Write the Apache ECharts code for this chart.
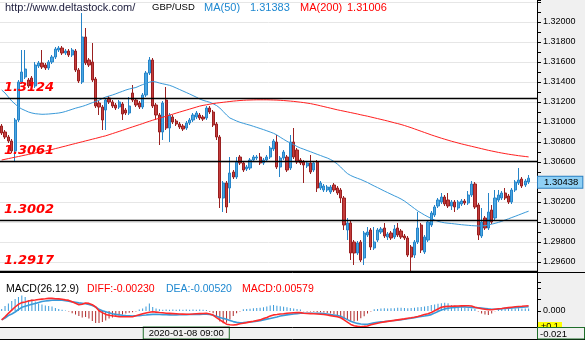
<!DOCTYPE html>
<html><head><meta charset="utf-8">
<script src="https://cdn.jsdelivr.net/npm/echarts@6/dist/echarts.min.js"></script>
<style>html,body{margin:0;padding:0;background:#f0f0f0}#c{width:585px;height:340px}</style>
</head><body><div id="c"></div>
<script>
// ---- data ----
const open = [1.3096,1.3090,1.3085,1.3081,1.3071,1.3102,1.3140,1.3145,1.3142,1.3144,
1.3136,1.3156,1.3159,1.3157,1.3154,1.3160,1.3165,1.3172,1.3174,1.3169,
1.3171,1.3167,1.3171,1.3152,1.3140,1.3185,1.3162,1.3160,1.3143,1.3119,
1.3115,1.3112,1.3124,1.3120,1.3117,1.3115,1.3118,1.3112,1.3109,1.3129,
1.3122,1.3119,1.3115,1.3127,1.3149,1.3162,1.3117,1.3107,1.3090,1.3122,
1.3094,1.3105,1.3101,1.3098,1.3096,1.3094,1.3099,1.3102,1.3105,1.3107,
1.3105,1.3104,1.3114,1.3110,1.3098,1.3085,1.3024,1.3039,1.3034,1.3050,
1.3045,1.3065,1.3059,1.3053,1.3054,1.3062,1.3064,1.3065,1.3059,1.3062,
1.3065,1.3073,1.3080,1.3055,1.3064,1.3065,1.3054,1.3080,1.3072,1.3062,
1.3060,1.3056,1.3059,1.3052,1.3060,1.3034,1.3032,1.3032,1.3030,1.3037,
1.3034,1.3032,1.3024,1.2992,1.2999,1.2980,1.2969,1.2980,1.2964,1.2987,
1.2992,1.2974,1.2982,1.2990,1.2994,1.2985,1.2989,1.2985,1.2994,1.2991,
1.2986,1.2984,1.2975,1.2967,1.2980,1.2997,1.2970,1.2982,1.2997,1.3007,
1.3016,1.3020,1.3025,1.3022,1.3016,1.3020,1.3014,1.3018,1.3021,1.3019,
1.3027,1.3038,1.3017,1.2986,1.3004,1.2994,1.3012,1.3004,1.3022,1.3024,
1.3029,1.3026,1.3020,1.3032,1.3039,1.3043,1.3037,1.3040];
const close = [1.3089,1.3085,1.3081,1.3071,1.3102,1.3140,1.3150,1.3153,1.3136,1.3136,
1.3157,1.3159,1.3155,1.3154,1.3160,1.3165,1.3173,1.3174,1.3169,1.3171,
1.3167,1.3172,1.3152,1.3141,1.3185,1.3159,1.3157,1.3142,1.3116,1.3115,
1.3102,1.3122,1.3120,1.3116,1.3114,1.3120,1.3108,1.3109,1.3116,1.3122,
1.3117,1.3115,1.3127,1.3149,1.3162,1.3116,1.3107,1.3090,1.3119,1.3094,
1.3107,1.3100,1.3098,1.3095,1.3093,1.3099,1.3102,1.3107,1.3109,1.3104,
1.3103,1.3114,1.3110,1.3097,1.3085,1.3024,1.3039,1.3015,1.3049,1.3045,
1.3060,1.3059,1.3052,1.3055,1.3062,1.3065,1.3065,1.3059,1.3062,1.3065,
1.3074,1.3081,1.3055,1.3064,1.3070,1.3052,1.3080,1.3065,1.3060,1.3059,
1.3057,1.3059,1.3050,1.3059,1.3034,1.3039,1.3036,1.3035,1.3035,1.3032,
1.3029,1.3024,1.2997,1.2999,1.2969,1.2969,1.2979,1.2962,1.2989,1.2990,
1.2975,1.2980,1.2992,1.2993,1.2986,1.2988,1.2984,1.2993,1.2987,1.2985,
1.2984,1.2967,1.2965,1.2980,1.2994,1.2972,1.2985,1.3000,1.3009,1.3015,
1.3022,1.3025,1.3018,1.3016,1.3020,1.3015,1.3020,1.3021,1.3019,1.3027,
1.3038,1.3015,1.2987,1.3000,1.2994,1.3010,1.3000,1.3024,1.3027,1.3029,
1.3024,1.3020,1.3032,1.3040,1.3042,1.3036,1.3041,1.30438];
const high = [1.3098,1.3092,1.3087,1.3083,1.3104,1.3142,1.3172,1.3172,1.3144,1.3146,
1.3160,1.3161,1.3172,1.3159,1.3162,1.3167,1.3175,1.3176,1.3176,1.3173,
1.3173,1.3174,1.3173,1.3154,1.3209,1.3194,1.3164,1.3179,1.3145,1.3121,
1.3117,1.3124,1.3126,1.3122,1.3119,1.3122,1.3120,1.3114,1.3125,1.3137,
1.3124,1.3121,1.3129,1.3151,1.3165,1.3164,1.3119,1.3109,1.3121,1.3135,
1.3109,1.3107,1.3103,1.3100,1.3098,1.3101,1.3104,1.3109,1.3111,1.3109,
1.3107,1.3116,1.3116,1.3112,1.3100,1.3087,1.3041,1.3041,1.3065,1.3052,
1.3065,1.3067,1.3061,1.3057,1.3064,1.3067,1.3067,1.3069,1.3064,1.3067,
1.3076,1.3083,1.3087,1.3066,1.3072,1.3067,1.3087,1.3094,1.3074,1.3064,
1.3062,1.3061,1.3067,1.3061,1.3062,1.3041,1.3038,1.3037,1.3037,1.3039,
1.3036,1.3034,1.3026,1.3004,1.3001,1.2982,1.2981,1.2982,1.2991,1.2995,
1.2994,1.2995,1.2994,1.2995,1.2999,1.2990,1.2991,1.2997,1.2999,1.2993,
1.2988,1.2986,1.2977,1.2982,1.3010,1.2999,1.2987,1.3002,1.3011,1.3017,
1.3024,1.3029,1.3027,1.3029,1.3022,1.3022,1.3022,1.3023,1.3023,1.3031,
1.3041,1.3040,1.3019,1.3014,1.3006,1.3029,1.3017,1.3032,1.3032,1.3031,
1.3034,1.3028,1.3034,1.3042,1.3054,1.3045,1.3043,1.3047];
const low = [1.3087,1.3083,1.3079,1.3069,1.3060,1.3100,1.3138,1.3143,1.3134,1.3134,
1.3134,1.3154,1.3153,1.3152,1.3152,1.3158,1.3163,1.3170,1.3167,1.3167,
1.3165,1.3165,1.3150,1.3139,1.3138,1.3157,1.3155,1.3140,1.3114,1.3107,
1.3092,1.3092,1.3118,1.3114,1.3112,1.3113,1.3102,1.3107,1.3107,1.3120,
1.3115,1.3113,1.3113,1.3125,1.3147,1.3114,1.3102,1.3077,1.3082,1.3092,
1.3080,1.3098,1.3096,1.3093,1.3091,1.3092,1.3097,1.3100,1.3103,1.3102,
1.3101,1.3102,1.3108,1.3095,1.3082,1.3014,1.3010,1.3009,1.3019,1.3043,
1.3043,1.3057,1.3050,1.3051,1.3052,1.3060,1.3062,1.3057,1.3057,1.3060,
1.3063,1.3071,1.3053,1.3045,1.3062,1.3050,1.3052,1.3063,1.3058,1.3057,
1.3039,1.3054,1.3048,1.3050,1.3030,1.3032,1.3030,1.3030,1.3028,1.3030,
1.3027,1.3019,1.2992,1.2982,1.2962,1.2957,1.2967,1.2960,1.2957,1.2985,
1.2972,1.2972,1.2980,1.2988,1.2984,1.2982,1.2982,1.2983,1.2985,1.2983,
1.2982,1.2965,1.2950,1.2964,1.2978,1.2969,1.2968,1.2980,1.2995,1.3005,
1.3014,1.3018,1.3016,1.3014,1.3012,1.3010,1.3012,1.3016,1.3017,1.3017,
1.3025,1.3013,1.2982,1.2984,1.2992,1.2992,1.2998,1.3002,1.3020,1.3022,
1.3022,1.3018,1.3018,1.3030,1.3037,1.3034,1.3035,1.3038];
const ma50 = [1.3132,1.3129,1.3125,1.3121,1.3118,1.3115,1.3113,1.31115,1.3110,1.3109,
1.31083,1.3108,1.31077,1.31078,1.3108,1.31083,1.31086,1.3109,1.31096,1.31105,
1.31116,1.31127,1.31138,1.31147,1.31156,1.31167,1.3118,1.31193,1.31205,1.31217,
1.31235,1.3125,1.3126,1.3127,1.31282,1.31295,1.31307,1.3132,1.3133,1.31338,
1.31345,1.3136,1.31374,1.31387,1.31398,1.31405,1.3140,1.3139,1.31382,1.31375,
1.31367,1.31355,1.3134,1.31325,1.3131,1.31295,1.3128,1.31264,1.31248,1.3123,
1.31217,1.31207,1.31197,1.31182,1.31165,1.3114,1.31105,1.3107,1.3104,1.31025,
1.3101,1.30997,1.30987,1.30977,1.30968,1.30957,1.30946,1.30935,1.30924,1.30912,
1.3090,1.30887,1.3087,1.30848,1.30827,1.30807,1.3079,1.30774,1.30755,1.3074,
1.30728,1.30715,1.30703,1.3069,1.30677,1.30665,1.30652,1.3064,1.30625,1.30605,
1.3058,1.3055,1.30515,1.30485,1.30465,1.3045,1.30437,1.30425,1.3041,1.30395,
1.30377,1.3036,1.30344,1.30327,1.3031,1.30294,1.30278,1.30262,1.30247,1.3023,
1.3021,1.30185,1.3016,1.30135,1.3011,1.3009,1.3007,1.30052,1.30035,1.3002,
1.30007,1.29998,1.29992,1.29988,1.29985,1.29981,1.29977,1.29973,1.2997,1.29967,
1.29964,1.29962,1.2996,1.2996,1.29964,1.2997,1.29978,1.29987,1.29996,1.30007,
1.3002,1.30032,1.30045,1.30057,1.3007,1.30083,1.30096,1.30108];
const ma200 = [1.3062,1.30627,1.30634,1.30641,1.30648,1.30655,1.30662,1.30669,1.30676,1.30683,
1.3069,1.30697,1.30704,1.30711,1.30718,1.30725,1.30734,1.30742,1.30751,1.30759,
1.30768,1.30777,1.30785,1.30794,1.30802,1.30811,1.30819,1.30828,1.30836,1.30845,
1.30854,1.30862,1.30873,1.30884,1.30895,1.30906,1.30917,1.30928,1.3094,1.30951,
1.30962,1.30973,1.30984,1.30996,1.31007,1.31018,1.31028,1.31038,1.31048,1.31058,
1.31068,1.31078,1.31089,1.31099,1.31109,1.31119,1.31129,1.31139,1.31149,1.31159,
1.31166,1.31172,1.31178,1.31184,1.31189,1.31193,1.31197,1.31201,1.31205,1.31209,
1.31212,1.31215,1.31217,1.31219,1.3122,1.31221,1.31222,1.31222,1.31222,1.31222,
1.31221,1.3122,1.31219,1.31217,1.31215,1.31212,1.31209,1.31206,1.31202,1.31198,
1.31194,1.31189,1.31184,1.31177,1.3117,1.31162,1.31154,1.31146,1.31138,1.3113,
1.31122,1.31115,1.31108,1.31101,1.31094,1.31087,1.3108,1.31072,1.31065,1.31058,
1.3105,1.31042,1.31034,1.31026,1.31018,1.3101,1.31001,1.30992,1.30984,1.30975,
1.30965,1.30954,1.30943,1.30931,1.30919,1.30907,1.30895,1.30883,1.30871,1.3086,
1.30849,1.30838,1.30828,1.30818,1.30808,1.30799,1.3079,1.30781,1.30773,1.30765,
1.30757,1.30749,1.30741,1.30733,1.30725,1.30717,1.3071,1.30703,1.30696,1.3069,
1.30684,1.30678,1.30673,1.30668,1.30663,1.30659,1.30655,1.30651];
const diff = [-0.0009,-0.00057,-0.00023,0.00008,0.0004,0.00067,0.00084,0.0009,0.001,0.00106,
0.0011,0.00115,0.00119,0.00122,0.00126,0.00126,0.00123,0.00121,0.00117,0.00111,
0.00106,0.00093,0.00077,0.00063,0.00067,0.00079,0.00076,0.00063,0.0004,0.00003,
-0.00016,-0.00034,-0.00043,-0.00048,-0.00052,-0.00056,-0.00057,-0.00057,-0.00057,-0.00057,
-0.00048,-0.00038,-0.00028,-0.0002,-0.00013,-0.00008,-0.00011,-0.00015,-0.00018,-0.00022,
-0.00024,-0.00026,-0.00028,-0.0003,-0.00031,-0.00033,-0.00032,-0.0003,-0.00028,-0.00026,
-0.00025,-0.00023,-0.0003,-0.00041,-0.00066,-0.00089,-0.0011,-0.00132,-0.00137,-0.0014,
-0.00136,-0.00128,-0.00122,-0.00116,-0.00109,-0.00103,-0.00096,-0.00089,-0.00076,-0.00064,
-0.0005,-0.00039,-0.00035,-0.0003,-0.00027,-0.00023,-0.0002,-0.00017,-0.00015,-0.00016,
-0.00023,-0.00025,-0.00026,-0.00028,-0.0003,-0.00032,-0.00035,-0.0004,-0.00046,-0.00052,
-0.00058,-0.00068,-0.00088,-0.00112,-0.00134,-0.00147,-0.00154,-0.00157,-0.00154,-0.0015,
-0.00138,-0.0013,-0.00122,-0.00115,-0.00109,-0.00104,-0.00099,-0.00094,-0.00089,-0.00084,
-0.00079,-0.00073,-0.00068,-0.00062,-0.00055,-0.00046,-0.00036,-0.00027,-0.00015,0.00002,
0.0002,0.00037,0.00044,0.00046,0.00048,0.00049,0.0005,0.00051,0.00052,0.00053,
0.0005,0.00038,0.0003,0.00023,0.00018,0.00012,0.00012,0.00017,0.00022,0.00025,
0.0003,0.00034,0.00038,0.00042,0.00045,0.00047,0.0005,0.00053];
const dea = [-0.00087,-0.0007,-0.00045,-0.0003,-0.0001,0.00015,0.00037,0.00047,0.00057,0.00067,
0.00075,0.00084,0.00095,0.001,0.00104,0.00107,0.00109,0.0011,0.00107,0.00103,
0.00098,0.00091,0.00086,0.00081,0.00077,0.00072,0.00065,0.00054,0.0004,0.00017,
0.00003,-0.00008,-0.00018,-0.00028,-0.00034,-0.00039,-0.00043,-0.00046,-0.00048,-0.0005,
-0.00048,-0.00046,-0.00043,-0.0004,-0.00036,-0.00034,-0.00034,-0.00035,-0.00036,-0.00038,
-0.00039,-0.0004,-0.00039,-0.00038,-0.00037,-0.00036,-0.00035,-0.00035,-0.00034,-0.00034,
-0.00033,-0.00033,-0.00035,-0.00042,-0.00052,-0.00065,-0.00074,-0.00082,-0.00094,-0.00106,
-0.00114,-0.00117,-0.00116,-0.00112,-0.00109,-0.00106,-0.00102,-0.00097,-0.00089,-0.00081,
-0.00075,-0.00067,-0.0006,-0.0005,-0.00044,-0.00039,-0.00034,-0.0003,-0.00026,-0.00023,
-0.00023,-0.00023,-0.00023,-0.00023,-0.00023,-0.00023,-0.00025,-0.0003,-0.00036,-0.00041,
-0.00046,-0.00053,-0.00069,-0.00086,-0.00102,-0.00115,-0.00124,-0.0013,-0.00133,-0.00132,
-0.00125,-0.00119,-0.00113,-0.00109,-0.00106,-0.00102,-0.00098,-0.00095,-0.00091,-0.00087,
-0.00083,-0.00078,-0.00072,-0.00066,-0.0006,-0.00055,-0.0005,-0.00044,-0.00036,-0.00021,
-0.00005,0.0001,0.00021,0.00028,0.00032,0.00036,0.00039,0.00042,0.00041,0.00038,
0.00036,0.00034,0.00032,0.00029,0.00025,0.00021,0.00018,0.00017,0.00019,0.00022,
0.00026,0.00029,0.00031,0.00033,0.00035,0.00037,0.0004,0.00043];
const macdHist = [0.0002,0.0005,0.00075,0.001,0.0012,0.0014,0.00155,0.0014,0.0011,0.00115,
0.00095,0.00075,0.00065,0.00055,0.0005,0.00045,0.0003,0.0002,0.00012,0.00005,
-0.00005,-0.00023,-0.00035,-0.0005,-0.00065,-0.0006,-0.00075,-0.001,-0.0012,-0.0012,
-0.0011,-0.00095,-0.00075,-0.00065,-0.00052,-0.00042,-0.00035,-0.00026,-0.00018,-0.00013,
-0.00005,0.00015,0.00025,0.00045,0.00075,0.0004,0.00025,0.00017,0.00013,0.00015,
0.00013,0.00015,0.00012,0.00014,0.00012,0.00015,0.00013,0.00015,0.00012,0.00014,
0.00012,0.0001,-0.00008,-0.00023,-0.00057,-0.00105,-0.00123,-0.00118,-0.00085,-0.0005,
-0.00023,-0.00005,0.00017,0.0002,0.00023,0.00027,0.0003,0.00033,0.00037,0.00045,
0.00055,0.0006,0.00052,0.00047,0.00042,0.00037,0.00031,0.00026,0.0002,0.00015,
-0.00003,-0.00004,-0.00005,-0.00008,-0.00013,-0.00013,-0.00015,-0.0002,-0.00024,-0.0003,
-0.0004,-0.00065,-0.00077,-0.0009,-0.001,-0.00105,-0.00097,-0.00072,-0.00053,-0.00025,
-0.00005,0.00017,0.0002,0.00025,0.00027,0.00025,0.00028,0.00027,0.00032,0.00033,
0.0003,0.00027,0.00029,0.00032,0.00037,0.0004,0.00045,0.0005,0.0006,0.00065,
0.00073,0.00078,0.00082,0.00077,0.0006,0.00055,0.00043,0.00038,0.00033,0.00028,
0.00025,0.0002,-0.00005,-0.00025,-0.00035,-0.0004,-0.00025,-0.00002,0.00025,0.00025,
0.00023,0.00025,0.00027,0.00025,0.00027,0.00025,0.00024,0.00025];
const levels = [1.3124, 1.3061, 1.3002, 1.2917];
const priceMin = 1.294, priceMax = 1.3222, priceStep = 0.002;
const panelFloor = 1.2951;
const macdMin = -0.00165, macdMax = 0.0038;
const macdTicks = [0, 0.00115, 0.0023];
const macdLabels = [0];
const slotCount = 160;
const cursorIndex = 55;
const times = [];
(function(){ const t0 = Date.UTC(2020,0,6,2,0);
  for (let i=0;i<slotCount;i++){ const d=new Date(t0+i*3600000);
    const p=n=>String(n).padStart(2,'0');
    times.push(d.getUTCFullYear()+'-'+p(d.getUTCMonth()+1)+'-'+p(d.getUTCDate())+' '+p(d.getUTCHours())+':00'); } })();

const candles = open.map((o,i)=>[o, close[i], low[i], high[i]]);
const BLUE='#3a9ad9', RED='#b02a2a';
const chart = echarts.init(document.getElementById('c'), null, {renderer:'canvas'});
const levelLabel = {show:true, position:'insideStartTop', distance:4, color:'#ff0000', fontStyle:'italic', fontWeight:'bold',
  fontSize:13, fontFamily:'DejaVu Sans', textShadowColor:'rgba(255,90,90,0.5)', textShadowOffsetX:1.5, textShadowOffsetY:1.5, textShadowBlur:0};
const lastClose = close[close.length-1];
chart.setOption({
  animation:false,
  backgroundColor:'#f0f0f0',
  grid:[
    {left:0, right:48, top:0, height:282, show:true, backgroundColor:'#ffffff', borderWidth:0},
    {left:0, right:48, top:273, height:54.5, show:true, backgroundColor:'#ffffff', borderWidth:0}
  ],
  xAxis:[
    {gridIndex:0, type:'category', data:times, boundaryGap:true, axisLine:{show:false}, axisTick:{show:false}, axisLabel:{show:false}, splitLine:{show:false}},
    {gridIndex:1, type:'category', data:times, boundaryGap:true, axisLine:{show:false}, axisTick:{show:false}, splitLine:{show:false},
     axisLabel:{show:true, interval:(i)=>i===cursorIndex, showMinLabel:false, showMaxLabel:false, margin:0, fontSize:9.5, fontFamily:'Liberation Sans', color:'#000',
       backgroundColor:'#f0f0f0', borderColor:'#1f6e2a', borderWidth:1, padding:[1,5,0,5]}}
  ],
  yAxis:[
    {gridIndex:0, type:'value', position:'right', min:priceMin, max:priceMax, interval:priceStep,
     axisLine:{show:true, lineStyle:{color:'#000'}},
     axisTick:{show:true, length:4, lineStyle:{color:'#000'}},
     minorTick:{show:true, splitNumber:2, length:4, lineStyle:{color:'#000'}},
     axisLabel:{show:true, color:'#000', fontSize:9, fontFamily:'Liberation Sans', margin:6, showMinLabel:false, showMaxLabel:false,
       formatter:v=> v>1.321 ? '' : v.toFixed(5)},
     splitLine:{show:true, showMinLine:false, showMaxLine:false, lineStyle:{color:'#e6e6e6', width:1}}},
    {gridIndex:1, type:'value', position:'right', min:macdMin, max:macdMax,
     axisLine:{show:true, lineStyle:{color:'#000'}},
     axisTick:{show:true, length:4, customValues:macdTicks, lineStyle:{color:'#000'}},
     axisLabel:{show:true, customValues:macdLabels, formatter:v=>Math.abs(v).toFixed(3), color:'#000', fontSize:9, fontFamily:'Liberation Sans', margin:6},
     splitLine:{show:false}}
  ],
  series:[
    {type:'candlestick', xAxisIndex:0, yAxisIndex:0, data:candles, barWidth:'80%',
     itemStyle:{color:'#4aa6e2', color0:'#c43c3c', borderColor:'#2684c8', borderColor0:'#9a2020', borderWidth:1},
     markLine:{symbol:['none','none'], silent:true, animation:false, z:5, precision:6,
       lineStyle:{color:'#000', width:1.3, type:'solid'},
       data: levels.map(v=>({yAxis:Math.max(v,panelFloor), label:Object.assign({}, levelLabel, {formatter:v.toFixed(4)})}))
     }},
    {type:'line', xAxisIndex:0, yAxisIndex:0, data:ma50, symbol:'none', z:3, lineStyle:{color:'#3a9ad9', width:1},
     markLine:{symbol:['none','none'], silent:true, animation:false, precision:6,
       lineStyle:{color:'rgba(0,0,0,0)', width:0},
       data:[{yAxis:lastClose, label:{show:true, position:'end', distance:1, formatter:lastClose.toFixed(5), color:'#000', fontSize:9.5, fontFamily:'Liberation Sans',
             backgroundColor:'#8fd0f5', borderColor:'#2b7fc0', borderWidth:1, padding:[1,4,0,6], offset:[0,4]}}]}},
    {type:'line', xAxisIndex:0, yAxisIndex:0, data:ma200, symbol:'none', z:3, lineStyle:{color:'#ff2020', width:1}},
    {type:'bar', xAxisIndex:1, yAxisIndex:1, data:macdHist, barWidth:1,
     itemStyle:{color:p=> p.value>=0 ? BLUE : RED}},
    {type:'line', xAxisIndex:1, yAxisIndex:1, data:dea, symbol:'none', z:3, lineStyle:{color:'#3a9ad9', width:1.6}},
    {type:'line', xAxisIndex:1, yAxisIndex:1, data:diff, symbol:'none', z:4, lineStyle:{color:'#ff2a2a', width:1.6}}
  ],
  graphic:[
    {type:'line', shape:{x1:0,y1:272.5,x2:585,y2:272.5}, style:{stroke:'#000', lineWidth:1}, z:50},
    {type:'line', shape:{x1:0,y1:327.5,x2:585,y2:327.5}, style:{stroke:'#000', lineWidth:1}, z:50},
    {type:'line', shape:{x1:0,y1:339.5,x2:585,y2:339.5}, style:{stroke:'#000', lineWidth:1}, z:50},
    {type:'text', left:5, top:2, style:{text:'http://www.deltastock.com/', fill:'#1a1a3a', font:'11px "Liberation Sans"'}, z:60},
    {type:'text', left:152, top:2.5, style:{text:'GBP/USD', fill:'#000', font:'9.5px "Liberation Sans"'}, z:60},
    {type:'text', left:204, top:2, style:{text:'MA(50)', fill:'#1e88d0', font:'11px "Liberation Sans"'}, z:60},
    {type:'text', left:250, top:2, style:{text:'1.31383', fill:'#1e88d0', font:'11px "Liberation Sans"'}, z:60},
    {type:'text', left:300, top:2, style:{text:'MA(200)', fill:'#ff0000', font:'11px "Liberation Sans"'}, z:60},
    {type:'text', left:347, top:2, style:{text:'1.31006', fill:'#ff0000', font:'11px "Liberation Sans"'}, z:60},
    {type:'text', left:6, top:284, style:{text:'MACD(26.12.9)', fill:'#000', font:'10.5px "Liberation Sans"'}, z:60},
    {type:'text', left:87, top:284, style:{text:'DIFF:-0.00230', fill:'#ff0000', font:'10.5px "Liberation Sans"'}, z:60},
    {type:'text', left:166, top:284, style:{text:'DEA:-0.00520', fill:'#1e88d0', font:'10.5px "Liberation Sans"'}, z:60},
    {type:'text', left:242, top:284, style:{text:'MACD:0.00579', fill:'#ff0000', font:'10.5px "Liberation Sans"'}, z:60},
    {type:'rect', shape:{x:538, y:322, width:24, height:6}, style:{fill:'#ffff00'}, z:61},
    {type:'text', left:541, top:322, style:{text:'+0.1', fill:'#000', font:'9px "Liberation Sans"'}, z:62},
    {type:'rect', shape:{x:537.5, y:327.5, width:47, height:11.5}, style:{fill:'#f0f0f0', stroke:'#1f6e2a', lineWidth:1}, z:63},
    {type:'text', left:540, top:329, style:{text:'-0.021', fill:'#000', font:'9.5px "Liberation Sans"'}, z:64}
  ]
});
</script></body></html>
